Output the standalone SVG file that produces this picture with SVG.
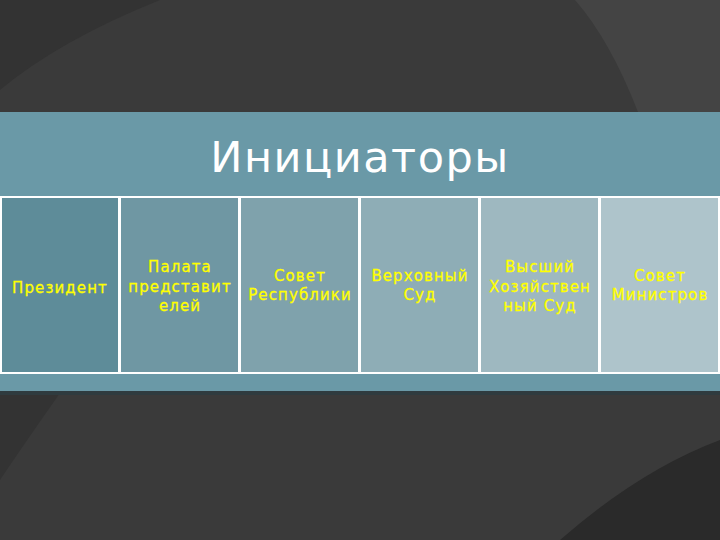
<svg xmlns="http://www.w3.org/2000/svg" width="720" height="540" viewBox="0 0 720 540">
<style>
.t{font-family:"DejaVu Sans",sans-serif;font-size:15px;fill:#ffff00;text-anchor:middle;letter-spacing:1.1px;stroke:#ffff00;stroke-width:0.3}
.b{stroke:#ffffff;stroke-width:2}
</style>
<rect width="720" height="540" fill="#3a3a3a"/>
<path d="M575 0 L720 0 L720 112 L638 112 Q610 40 575 0 Z" fill="#444444"/>
<path d="M0 0 L160 0 Q60 40 0 90 Z" fill="#333333"/>
<path d="M560 540 Q640 470 720 440 L720 540 Z" fill="#2a2a2a"/>
<path d="M0 480 Q20 450 60 393 L0 393 Z" fill="#333333"/>
<rect x="0" y="112" width="720" height="281" fill="#6a99a7"/>
<rect x="0" y="391" width="720" height="4" fill="#2f3b3f"/>
<text x="360" y="172" font-family="DejaVu Sans,sans-serif" font-size="43" fill="#ffffff" text-anchor="middle" letter-spacing="1.5">Инициаторы</text>
<g id="n1"><rect class="b" x="1" y="197" width="118" height="176" fill="#5e8c99"/><text class="t" x="60" y="293">Президент</text></g>
<g id="n2"><rect class="b" x="120" y="197" width="119" height="176" fill="#6f97a3"/><text class="t" x="180" y="272">Палата</text><text class="t" x="180" y="292">представит</text><text class="t" x="180" y="311">елей</text></g>
<g id="n3"><rect class="b" x="240" y="197" width="119" height="176" fill="#7fa2ac"/><text class="t" x="300" y="281">Совет</text><text class="t" x="300" y="300">Республики</text></g>
<g id="n4"><rect class="b" x="360" y="197" width="119" height="176" fill="#8eadb6"/><text class="t" x="420" y="281">Верховный</text><text class="t" x="420" y="300">Суд</text></g>
<g id="n5"><rect class="b" x="480" y="197" width="119" height="176" fill="#9eb8c0"/><text class="t" x="540" y="272">Высший</text><text class="t" x="540" y="292">Хозяйствен</text><text class="t" x="540" y="311">ный Суд</text></g>
<g id="n6"><rect class="b" x="600" y="197" width="119" height="176" fill="#aec4cb"/><text class="t" x="660" y="281">Совет</text><text class="t" x="660" y="300">Министров</text></g>
<g id="connectors"/>
</svg>
